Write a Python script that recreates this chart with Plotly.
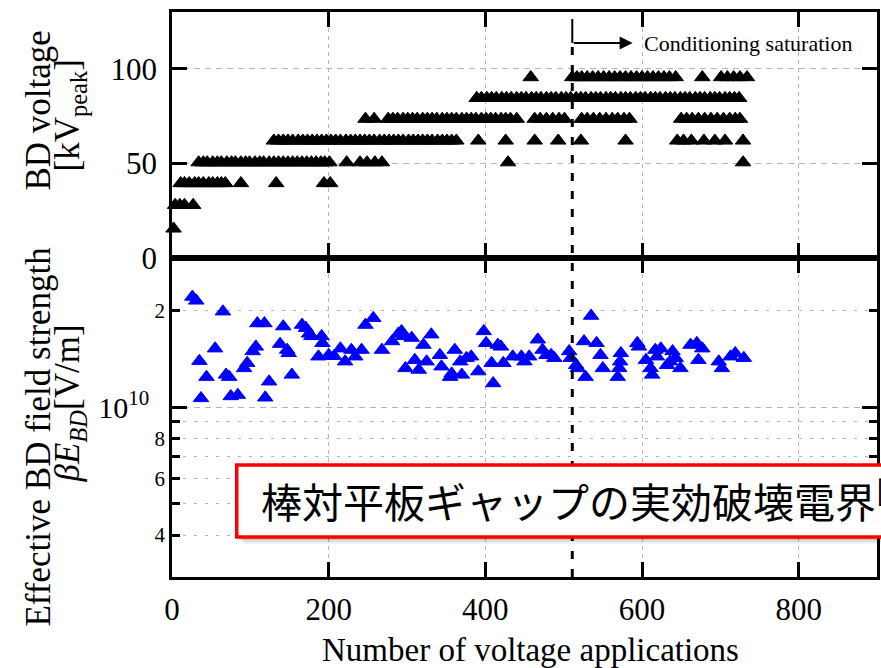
import plotly.graph_objects as go

# ---------------- data ----------------
# Breakdown voltage levels [kV_peak] and the application numbers broken down at each level
bd_levels = [15.5, 28, 39.5, 50.5, 62, 73.5, 84.5, 95.5]

apps_lv1 = [2]
apps_lv2 = [4, 10, 16, 27]
apps_lv3 = [11, 16, 22, 29, 34, 40, 47, 52, 58, 63, 68, 88, 133, 194, 202]
apps_lv4 = [34, 40, 45, 52, 58, 63, 70, 76, 81, 88, 94, 99, 106, 112, 117, 124,
            130, 136, 142, 148, 154, 160, 166, 172, 178, 184, 190, 195, 201,
            223, 240, 249, 259, 268, 429, 729]
apps_lv5 = [130, 136, 142, 148, 154, 161, 167, 173, 179, 185, 191, 197, 203, 209,
            215, 222, 228, 234, 240, 246, 252, 258, 265, 271, 277, 283, 289, 295,
            302, 308, 314, 320, 326, 332, 339, 345, 351, 357, 363,
            391, 426, 463, 493, 522, 579,
            645, 653, 663, 679, 693, 706, 729]
apps_lv6 = [247, 258,
            276, 282, 288, 295, 301, 307, 313, 320, 326, 332, 338, 345, 351, 357,
            363, 370, 376, 382, 388, 395, 401, 407, 413, 420, 426, 432, 440,
            463, 470, 478, 486, 494, 501,
            523, 530, 538, 546, 554, 562, 569, 577, 584,
            650, 657, 664, 672, 680, 688, 696, 704, 712, 719, 725]
apps_lv7 = [389, 395, 402, 408, 414, 421, 427, 433, 440, 446, 452, 459, 465, 471,
            478, 484, 490, 497, 503, 509, 516, 522, 528, 535, 541, 547, 554, 560,
            566, 573, 579, 585, 592, 598, 604, 611, 617, 623, 630, 636, 642, 649,
            655, 661, 668, 674, 680, 687, 693, 699, 706, 712, 718, 724]
apps_lv8 = [458,
            511, 517, 523, 530, 537, 544, 551, 558, 565, 572, 579, 586, 593, 600,
            607, 614, 621, 628, 635, 643,
            677, 701, 709, 717, 725, 734]

apps_by_level = [apps_lv1, apps_lv2, apps_lv3, apps_lv4,
                 apps_lv5, apps_lv6, apps_lv7, apps_lv8]

# Effective breakdown field strength beta*E_BD [V/m]
x_eff = [26, 31, 35, 37, 44, 55, 65, 69, 73, 75, 84, 92, 96, 103, 107, 109, 118,
         119, 124, 138, 142, 147, 149, 153, 166, 171, 175, 178, 187, 191, 192,
         200, 207, 215, 221, 229, 234, 242, 247, 257, 268, 281, 289, 293, 295,
         298, 306, 310, 315, 321, 325, 331, 342, 344, 355, 357, 361, 368, 370,
         376, 382, 391, 398, 401, 408, 410, 416, 420, 423, 435, 446, 450, 456,
         467, 473, 478, 484, 488, 507, 509, 516, 518, 526, 528, 535, 542, 547,
         550, 569, 571, 572, 573, 594, 596, 605, 611, 613, 617, 619, 624, 632,
         636, 639, 643, 649, 662, 670, 672, 677, 698, 702, 713, 719, 730]
e_eff = [2.20e10, 2.14e10, 1.39e10, 1.065e10, 1.24e10, 1.52e10, 1.98e10, 1.26e10,
         1.24e10, 1.08e10, 1.09e10, 1.32e10, 1.37e10, 1.49e10, 1.54e10, 1.82e10,
         1.82e10, 1.07e10, 1.20e10, 1.57e10, 1.78e10, 1.505e10, 1.47e10, 1.26e10,
         1.80e10, 1.76e10, 1.69e10, 1.66e10, 1.435e10, 1.66e10, 1.58e10, 1.45e10,
         1.44e10, 1.52e10, 1.385e10, 1.505e10, 1.435e10, 1.505e10, 1.80e10,
         1.89e10, 1.505e10, 1.60e10, 1.69e10, 1.72e10, 1.66e10, 1.32e10, 1.64e10,
         1.40e10, 1.305e10, 1.56e10, 1.385e10, 1.68e10, 1.45e10, 1.336e10,
         1.24e10, 1.27e10, 1.505e10, 1.385e10, 1.26e10, 1.42e10, 1.435e10,
         1.29e10, 1.72e10, 1.58e10, 1.37e10, 1.185e10, 1.56e10, 1.54e10, 1.37e10,
         1.435e10, 1.435e10, 1.385e10, 1.435e10, 1.62e10, 1.505e10, 1.45e10,
         1.45e10, 1.42e10, 1.49e10, 1.42e10, 1.35e10, 1.32e10, 1.60e10, 1.24e10,
         1.92e10, 1.58e10, 1.45e10, 1.32e10, 1.24e10, 1.32e10, 1.385e10, 1.47e10,
         1.58e10, 1.54e10, 1.40e10, 1.32e10, 1.26e10, 1.505e10, 1.435e10, 1.52e10,
         1.35e10, 1.385e10, 1.49e10, 1.42e10, 1.32e10, 1.56e10, 1.58e10, 1.40e10,
         1.52e10, 1.385e10, 1.32e10, 1.435e10, 1.47e10, 1.42e10]

x_ticks = [0, 200, 400, 600, 800]
x_tick_text = ["0", "200", "400", "600", "800"]
v_ticks = [0, 50, 100]
e_major = [1e10]
e_major_text = ["10<sup>10</sup>"]
e_minor = [4e9, 5e9, 6e9, 7e9, 8e9, 9e9, 2e10]
e_labelled = [4e9, 6e9, 8e9, 2e10]
e_labelled_text = ["4", "6", "8", "2"]

saturation_start = 511   # application number where conditioning saturates
annot_note = "棒対平板ギャップの実効破壊電界<sup>[4]</sup>"

# ---------------- figure ----------------
SERIF = "Liberation Serif, Times New Roman, serif"
GRID = "#b4b4b4"

bd_x, bd_y = [], []
for lvl, apps in zip(bd_levels, apps_by_level):
    bd_x.extend(apps)
    bd_y.extend([lvl] * len(apps))

fig = go.Figure()
fig.add_trace(go.Scatter(
    x=bd_x, y=bd_y, mode="markers", xaxis="x", yaxis="y",
    marker=dict(symbol="triangle-up", size=13.5, color="black",
                line=dict(color="black", width=1)),
    cliponaxis=False, showlegend=False, hoverinfo="skip"))
fig.add_trace(go.Scatter(
    x=x_eff, y=e_eff, mode="markers", xaxis="x2", yaxis="y2",
    marker=dict(symbol="triangle-up", size=13.5, color="#0000ff",
                line=dict(color="#0000ff", width=1)),
    cliponaxis=False, showlegend=False, hoverinfo="skip"))
# carrier for the labelled minor ticks of the log axis
fig.add_trace(go.Scatter(x=[], y=[], xaxis="x2", yaxis="y3",
                         showlegend=False, hoverinfo="skip"))

split = 0.5646
common_x = dict(range=[0, 900], tickmode="array", tickvals=x_ticks,
                ticktext=x_tick_text, ticks="inside", ticklen=15,
                tickwidth=2.5, tickcolor="black", showline=True, linewidth=2.5,
                linecolor="black", mirror="ticks", showgrid=True,
                gridcolor=GRID, griddash="4px,4px", gridwidth=1,
                zeroline=False, domain=[0, 1])

fig.update_layout(
    width=881, height=668,
    margin=dict(l=172, r=1, t=12, b=91, pad=0),
    paper_bgcolor="white", plot_bgcolor="white",
    hovermode=False,
    font=dict(family=SERIF, color="black"),
    xaxis=dict(common_x, anchor="y", showticklabels=False),
    xaxis2=dict(common_x, anchor="y2", showticklabels=True,
                tickfont=dict(family=SERIF, size=31, color="black"),
                ticklabelstandoff=3),
    yaxis=dict(domain=[split, 1], range=[0, 130], tickmode="array",
               tickvals=v_ticks, ticks="inside", ticklen=15, tickwidth=2.5,
               tickcolor="black", showline=True, linewidth=2.5,
               linecolor="black", mirror="ticks", showgrid=True,
               gridcolor=GRID, griddash="6px,5px", gridwidth=1,
               zeroline=False, anchor="x",
               tickfont=dict(family=SERIF, size=31, color="black"),
               ticklabelstandoff=6),
    yaxis2=dict(domain=[0, split], type="log", range=[9.472, 10.463],
                tickmode="array", tickvals=e_major, ticktext=e_major_text,
                ticks="inside", ticklen=15, tickwidth=2.5, tickcolor="black",
                showline=True, linewidth=2.5, linecolor="black",
                mirror="ticks", showgrid=True, gridcolor=GRID,
                griddash="6px,5px", gridwidth=1, zeroline=False, anchor="x2",
                tickfont=dict(family=SERIF, size=30, color="black"),
                ticklabelstandoff=14,
                minor=dict(tickmode="array", tickvals=e_minor, ticks="inside",
                           ticklen=8, tickwidth=2.5, tickcolor="black",
                           showgrid=True, gridcolor=GRID, griddash="3px,8px",
                           gridwidth=1)),
    yaxis3=dict(overlaying="y2", type="log", range=[9.472, 10.463],
                anchor="x2", side="left", tickmode="array",
                tickvals=e_labelled, ticktext=e_labelled_text, ticks="",
                showline=False, showgrid=False, zeroline=False,
                tickfont=dict(family=SERIF, size=21, color="black"),
                ticklabelstandoff=6),
)

# conditioning-saturation marker
fig.add_shape(type="line", xref="x", yref="paper",
              x0=saturation_start, x1=saturation_start, y0=0, y1=0.9451,
              line=dict(color="black", width=3, dash="8px,10px"), layer="above")
fig.add_shape(type="line", xref="x", yref="paper",
              x0=saturation_start, x1=saturation_start, y0=0.9451, y1=0.9876,
              line=dict(color="black", width=2), layer="above")
fig.add_annotation(x=588, y=113.6, xref="x", yref="y",
                   ax=saturation_start, ay=113.6, axref="x", ayref="y",
                   text="", showarrow=True, arrowhead=2, arrowsize=1.3,
                   arrowwidth=2, arrowcolor="black", standoff=0)
fig.add_annotation(x=600, y=113.6, xref="x", yref="y", xanchor="left",
                   yanchor="middle", showarrow=False,
                   text="Conditioning saturation",
                   font=dict(family=SERIF, size=22, color="black"))

# axis titles
title_font = dict(family=SERIF, size=35, color="black")
fig.add_annotation(x=-0.1893, y=0.8248, xref="paper", yref="paper",
                   text="BD voltage", textangle=-90, showarrow=False,
                   xanchor="center", yanchor="middle", font=title_font)
fig.add_annotation(x=-0.1440, y=0.8177, xref="paper", yref="paper",
                   text="[kV<sub>peak</sub>]", textangle=-90, showarrow=False,
                   xanchor="center", yanchor="middle", font=title_font)
fig.add_annotation(x=-0.1893, y=0.2478, xref="paper", yref="paper",
                   text="Effective BD field strength", textangle=-90,
                   showarrow=False, xanchor="center", yanchor="middle",
                   font=title_font)
fig.add_annotation(x=-0.1440, y=0.308, xref="paper", yref="paper",
                   text="<i>βE</i><sub><i>BD</i></sub>[V/m]", textangle=-90,
                   showarrow=False, xanchor="center", yanchor="middle",
                   font=title_font)
fig.add_annotation(x=0.508, y=-0.1290, xref="paper", yref="paper",
                   text="Number of voltage applications", showarrow=False,
                   xanchor="center", yanchor="middle",
                   font=dict(family=SERIF, size=33, color="black"))

# caption box with soft drop shadow
bx0, bx1, by0, by1 = 0.0918, 1.04, 0.0708, 0.1982
for dx, dy, alpha in [(0.0099, 0.0124, 0.05), (0.0071, 0.0089, 0.08),
                      (0.0042, 0.0053, 0.12)]:
    fig.add_shape(type="rect", xref="paper", yref="paper",
                  x0=bx0 + dx, x1=bx1 + dx, y0=by0 - dy, y1=by1 - dy,
                  fillcolor=f"rgba(0,0,0,{alpha})", line=dict(width=0),
                  layer="above")
fig.add_shape(type="rect", xref="paper", yref="paper",
              x0=bx0, x1=bx1, y0=by0, y1=by1, fillcolor="white",
              line=dict(color="#ff0000", width=3.5), layer="above")
fig.add_annotation(x=0.1229, y=0.138, xref="paper", yref="paper",
                   text=annot_note, showarrow=False, xanchor="left",
                   yanchor="middle",
                   font=dict(family="Noto Sans CJK JP", size=41, color="black"))

fig.write_html("out.html", config={"displayModeBar": False})
